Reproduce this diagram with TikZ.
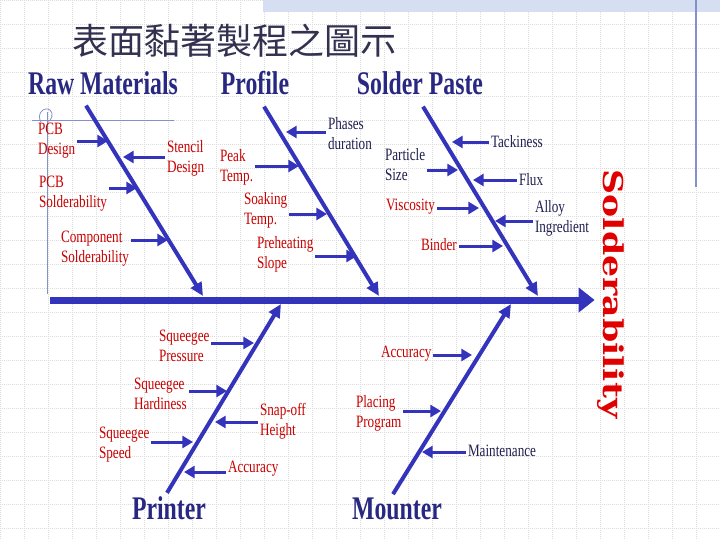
\documentclass[tikz,border=0pt]{standalone}
\usepackage{fontspec}
\setmainfont{Liberation Serif}
\newfontfamily\lblfont[FakeStretch=0.76]{Liberation Serif}
\newfontfamily\headfont[FakeStretch=0.72]{Liberation Serif}
\newfontfamily\soldfont[FakeStretch=1.27]{DejaVu Serif}
\newfontfamily\cjkfont{Noto Sans CJK TC}
\usetikzlibrary{arrows.meta}
\definecolor{fbblue}{RGB}{51,51,187}
\definecolor{lblred}{RGB}{200,0,0}
\definecolor{lblnavy}{RGB}{30,30,80}
\definecolor{headnavy}{RGB}{40,40,130}
\definecolor{soldred}{RGB}{225,0,0}
\definecolor{titlegray}{RGB}{50,50,80}
\definecolor{decoblue}{RGB}{130,145,200}
\definecolor{bandblue}{RGB}{214,222,242}

\begin{document}
\begin{tikzpicture}[x=0.75pt,y=0.75pt,yscale=-1,xscale=1,
  gridline/.style={draw=gray!28, densely dotted, line width=0.5pt},
  spine/.style={draw=fbblue, line width=5.25pt, -{Triangle[length=12pt,width=18pt]}},
  bone/.style={draw=fbblue, line width=3pt, -{Triangle[length=10pt,width=9pt]}},
  cause/.style={draw=fbblue, line width=2.25pt, -{Triangle[length=8pt,width=9pt]}},
  lbl/.style={anchor=west, inner sep=0pt, outer sep=1.5pt, align=left, font=\lblfont\fontsize{13}{15}\selectfont},
  redlbl/.style={lbl, text=lblred},
  navylbl/.style={lbl, text=lblnavy},
  head/.style={anchor=base, inner sep=0pt, text=headnavy, font=\headfont\bfseries\fontsize{24.75}{26}\selectfont}
]
\useasboundingbox (0,0) rectangle (720,540);

%Background grid
\draw[gridline, step=24] (0,0) grid (720,540);
\fill[bandblue] (263,0) rectangle (720,12);
\draw[decoblue, line width=1.2pt] (696,0) -- (696,187);
\draw[decoblue, line width=0.75pt] (32,120) -- (174,120);
\draw[decoblue, line width=0.75pt] (47,112) -- (47,294);
\draw[decoblue, line width=0.6pt] (41,122) .. controls (36,114) and (44,106) .. (50,110) .. controls (54,113) and (52,121) .. (47,122);

% Text Node
\draw (234,41) node [inner sep=0pt, text=titlegray, font=\cjkfont\fontsize{27}{27}\selectfont] (title) {表面黏著製程之圖示};
% Text Node
\draw (611,294) node [rotate=-90, inner sep=2pt, text=soldred, font=\soldfont\bfseries\fontsize{20.5}{20.5}\selectfont] (sold) {Solderability};

% Text Node
\draw (103,94) node [head] (rm) {Raw Materials};
% Text Node
\draw (255,94) node [head] (prof) {Profile};
% Text Node
\draw (420,94) node [head] (sp) {Solder Paste};
% Text Node
\draw (169,519) node [head] (prn) {Printer};
% Text Node
\draw (397,519) node [head] (mnt) {Mounter};

%Spine
\coordinate (spl) at (50,300);
\draw[spine] (spl) -- (spl -| sold.south);

%Bones
\coordinate (rmend) at (203,296);
\coordinate (profend) at (379,296);
\coordinate (spend) at (538,296);
\coordinate (prnend) at (281,304);
\coordinate (mntend) at (511,304);
\draw[bone] (rm.south) ++(-17,11) -- (rmend);
\draw[bone] (prof.south) ++(9,12) -- (profend);
\draw[bone] (sp.south) ++(3,12) -- (spend);
\draw[bone] (prn.north) ++(-2,-3) -- (prnend);
\draw[bone] (mnt.north) ++(-4,-3) -- (mntend);

% Raw Materials
\draw (36,141) node [redlbl] (pcbd) {PCB\\Design};
\draw (165,158) node [redlbl] (sten) {Stencil\\Design};
\draw (37,194) node [redlbl] (pcbs) {PCB\\Solderability};
\draw (59,249) node [redlbl] (comp) {Component\\Solderability};
\coordinate (t1) at (108,141);
\coordinate (t2) at (123,157);
\coordinate (t3) at (137,188);
\coordinate (t4) at (168,240);
\draw[cause] (pcbd.east |- t1) -- (t1);
\draw[cause] (sten.west |- t2) -- (t2);
\draw[cause] (pcbs.east |- t3) -- (t3);
\draw[cause] (comp.east |- t4) -- (t4);

% Profile
\draw (326,134) node [navylbl] (phase) {Phases\\duration};
\draw (218,167) node [redlbl] (peak) {Peak\\Temp.};
\draw (242,210) node [redlbl] (soak) {Soaking\\Temp.};
\draw (255,254) node [redlbl] (preh) {Preheating\\Slope};
\coordinate (t5) at (286,132);
\coordinate (t6) at (299,166);
\coordinate (t7) at (327,214);
\coordinate (t8) at (357,256);
\draw[cause] (phase.west |- t5) -- (t5);
\draw[cause] (peak.east |- t6) -- (t6);
\draw[cause] (soak.east |- t7) -- (t7);
\draw[cause] (preh.east |- t8) -- (t8);

% Solder Paste
\draw (489,142) node [navylbl] (tack) {Tackiness};
\draw (383,165) node [navylbl] (part) {Particle\\Size};
\draw (517,180) node [navylbl] (flux) {Flux};
\draw (384,207) node [redlbl] (visc) {Viscosity};
\draw (533,218) node [navylbl] (alloy) {Alloy\\Ingredient};
\draw (419,245) node [redlbl] (bind) {Binder};
\coordinate (t9) at (452,142);
\coordinate (t10) at (458,170);
\coordinate (t11) at (473,180);
\coordinate (t12) at (479,208);
\coordinate (t13) at (495,221);
\coordinate (t14) at (503,246);
\draw[cause] (tack.west |- t9) -- (t9);
\draw[cause] (part.east |- t10) -- (t10);
\draw[cause] (flux.west |- t11) -- (t11);
\draw[cause] (visc.east |- t12) -- (t12);
\draw[cause] (alloy.west |- t13) -- (t13);
\draw[cause] (bind.east |- t14) -- (t14);

% Printer
\draw (157,346) node [redlbl] (sqp) {Squeegee\\Pressure};
\draw (132,394) node [redlbl] (sqh) {Squeegee\\Hardiness};
\draw (258,421) node [redlbl] (snap) {Snap-off\\Height};
\draw (97,445) node [redlbl] (sqs) {Squeegee\\Speed};
\draw (226,469) node [redlbl] (pacc) {Accuracy};
\coordinate (t15) at (254,343);
\coordinate (t16) at (227,391);
\coordinate (t17) at (215,422);
\coordinate (t18) at (193,442);
\coordinate (t19) at (184,472);
\draw[cause] (sqp.east |- t15) -- (t15);
\draw[cause] (sqh.east |- t16) -- (t16);
\draw[cause] (snap.west |- t17) -- (t17);
\draw[cause] (sqs.east |- t18) -- (t18);
\draw[cause] (pacc.west |- t19) -- (t19);

% Mounter
\draw (379,354) node [redlbl] (macc) {Accuracy};
\draw (354,413) node [redlbl] (plac) {Placing\\Program};
\draw (466,451) node [navylbl] (maint) {Maintenance};
\coordinate (t20) at (472,355);
\coordinate (t21) at (441,411);
\coordinate (t22) at (422,452);
\draw[cause] (macc.east |- t20) -- (t20);
\draw[cause] (plac.east |- t21) -- (t21);
\draw[cause] (maint.west |- t22) -- (t22);

\end{tikzpicture}
\end{document}
